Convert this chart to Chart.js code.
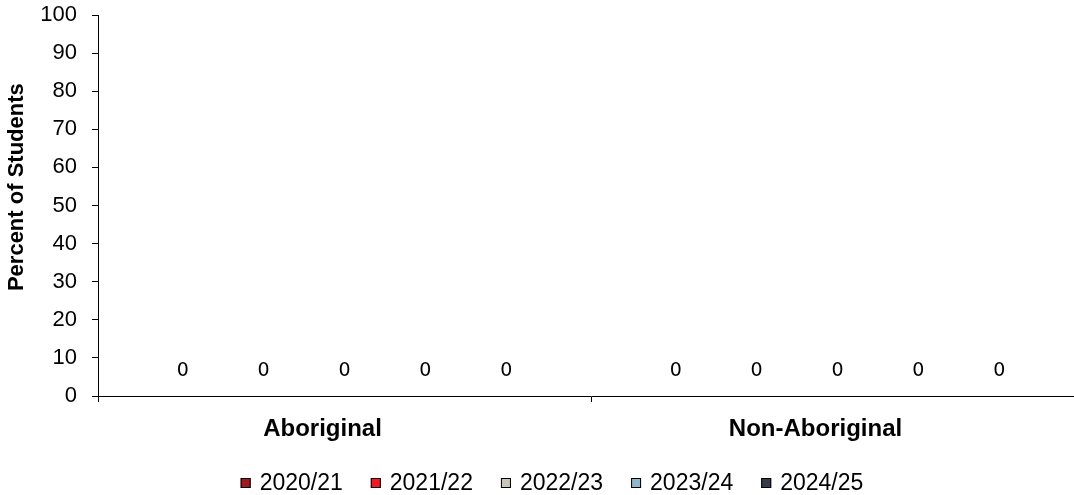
<!DOCTYPE html>
<html>
<head>
<meta charset="utf-8">
<script src="https://cdn.jsdelivr.net/npm/chart.js@4.4.1/dist/chart.umd.min.js"></script>
<style>
  html, body { margin: 0; padding: 0; background: #fff; overflow: hidden; }
  #wrap { width: 1104px; height: 495px; position: relative; }
</style>
</head>
<body>
<div id="wrap"><canvas id="chart"></canvas></div>
<script>
// chart data
const categories = ['Aboriginal', 'Non-Aboriginal'];
const years = ['2020/21', '2021/22', '2022/23', '2023/24', '2024/25'];
const values2020 = [0, 0];
const values2021 = [0, 0];
const values2022 = [0, 0];
const values2023 = [0, 0];
const values2024 = [0, 0];
const yTicks = [0, 10, 20, 30, 40, 50, 60, 70, 80, 90, 100];

const seriesValues = [values2020, values2021, values2022, values2023, values2024];
const colors = ['#9e1a20', '#ed1c24', '#c9c5b9', '#90b5cc', '#373b47'];
const FONT = '"Liberation Sans", Arial';

// value above every bar
const valueLabels = {
  id: 'valueLabels',
  afterDatasetsDraw(chart) {
    const ctx = chart.ctx;
    ctx.save();
    ctx.font = '19px "DejaVu Sans"';
    ctx.fillStyle = '#000';
    ctx.textAlign = 'center';
    ctx.textBaseline = 'middle';
    chart.data.datasets.forEach((ds, i) => {
      chart.getDatasetMeta(i).data.forEach((bar, j) => {
        ctx.fillText(String(ds.data[j]), bar.x, bar.y - 25);
      });
    });
    ctx.restore();
  }
};

// legend row at the bottom, drawn from the datasets
const bottomLegend = {
  id: 'bottomLegend',
  afterDraw(chart) {
    const ctx = chart.ctx;
    const y = 483, box = 10, gap = 9, spacing = 28;
    ctx.save();
    ctx.font = '23px ' + FONT;
    ctx.textBaseline = 'middle';
    const items = chart.data.datasets.map(ds => ({
      text: ds.label, color: ds.backgroundColor, w: box + gap + ctx.measureText(ds.label).width
    }));
    const total = items.reduce((s, it) => s + it.w, 0) + spacing * (items.length - 1);
    let x = chart.width / 2 - total / 2;
    items.forEach(it => {
      ctx.fillStyle = it.color;
      ctx.fillRect(x, y - box / 2, box, box);
      ctx.strokeStyle = '#000';
      ctx.lineWidth = 1;
      ctx.strokeRect(x + 0.5, y - box / 2 + 0.5, box - 1, box - 1);
      ctx.fillStyle = '#000';
      ctx.fillText(it.text, x + box + gap, y + 1);
      x += it.w + spacing;
    });
    ctx.restore();
  }
};

new Chart(document.getElementById('chart'), {
  type: 'bar',
  data: {
    labels: categories,
    datasets: years.map((y, i) => ({
      label: y,
      data: seriesValues[i],
      backgroundColor: colors[i],
      borderColor: '#000',
      borderWidth: 1,
      categoryPercentage: 0.82,
      barPercentage: 0.7
    }))
  },
  options: {
    responsive: true,
    maintainAspectRatio: false,
    animation: false,
    layout: { padding: { left: 0, right: 20, top: 15, bottom: 0 } },
    plugins: {
      tooltip: { enabled: false },
      legend: { display: false }
    },
    scales: {
      x: {
        grid: { offset: true, drawOnChartArea: false, drawTicks: true, tickLength: 6, color: '#000' },
        border: { color: '#000', width: 1 },
        ticks: {
          color: '#000',
          padding: 13,
          labelOffset: -22,
          font: { family: FONT, size: 24, weight: 'bold' }
        },
        afterFit(scale) { scale.height = 99; }
      },
      y: {
        min: 0,
        max: 100,
        afterBuildTicks(scale) { scale.ticks = yTicks.map(v => ({ value: v })); },
        grid: { drawOnChartArea: false, drawTicks: true, tickLength: 6, color: '#000' },
        border: { color: '#000', width: 1 },
        ticks: {
          color: '#000',
          padding: 15,
          font: { family: FONT, size: 22 }
        },
        title: {
          display: true,
          text: '      Percent of Students',
          color: '#000',
          padding: { top: 4, bottom: 0 },
          font: { family: FONT, size: 22, weight: 'bold' }
        },
        afterFit(scale) {
          scale.width = 98;
          scale.paddingTop = 0;
          scale.paddingBottom = 0;
        }
      }
    }
  },
  plugins: [valueLabels, bottomLegend]
});
</script>
</body>
</html>
